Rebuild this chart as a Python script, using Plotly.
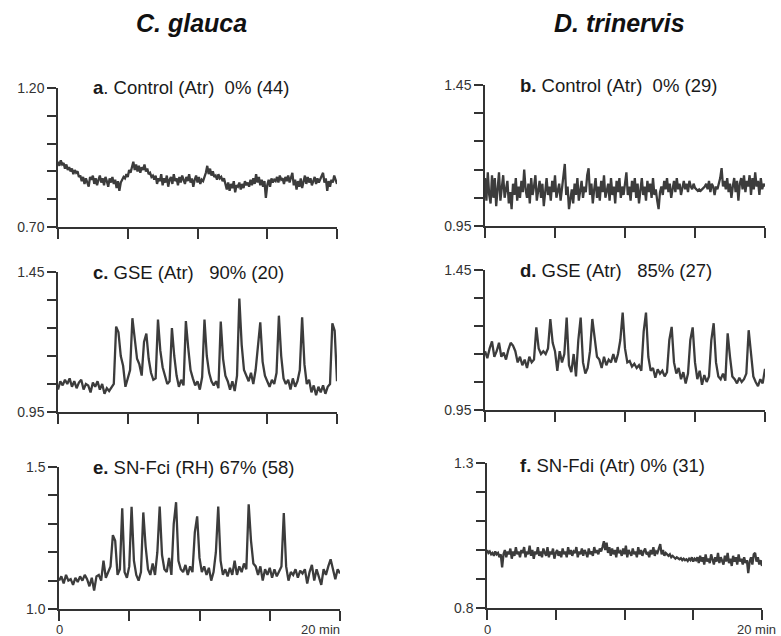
import plotly.graph_objects as go

# ---------------- data ----------------
species = ["C. glauca", "D. trinervis"]
panel_labels = [
    ("a", ". Control (Atr)\u00a0\u00a00% (44)"),
    ("b.", " Control (Atr)\u00a0\u00a00% (29)"),
    ("c.", " GSE (Atr)\u00a0\u00a0\u00a090% (20)"),
    ("d.", " GSE (Atr)\u00a0\u00a0\u00a085% (27)"),
    ("e.", " SN-Fci (RH) 67% (58)"),
    ("f.", " SN-Fdi (Atr) 0% (31)"),
]
y_ranges = [(0.70, 1.20), (0.95, 1.45), (0.95, 1.45), (0.95, 1.45), (1.0, 1.5), (0.8, 1.3)]
y_tick_labels = [("0.70", "1.20"), ("0.95", "1.45"), ("0.95", "1.45"),
                 ("0.95", "1.45"), ("1.0", "1.5"), ("0.8", "1.3")]
x_tick_minutes = [0, 5, 10, 15, 20]
duration_min = 20

ratio_a = [
    0.935, 0.920, 0.940, 0.925, 0.930, 0.910, 0.925, 0.905, 0.915, 0.900, 0.910, 0.890, 0.905, 0.895, 0.900, 0.880,
    0.885, 0.865, 0.880, 0.855, 0.875, 0.860, 0.845, 0.880, 0.870, 0.885, 0.855, 0.875, 0.850, 0.870, 0.885,
    0.860, 0.875, 0.850, 0.880, 0.865, 0.845, 0.875, 0.860, 0.880, 0.855, 0.870, 0.840, 0.865, 0.830, 0.860,
    0.870, 0.880, 0.875, 0.890, 0.880, 0.905, 0.895, 0.915, 0.935, 0.905,
    0.925, 0.900, 0.920, 0.895, 0.915, 0.905, 0.925, 0.900, 0.910, 0.890, 0.895, 0.880, 0.885,
    0.870, 0.885, 0.855, 0.875, 0.865, 0.890, 0.850, 0.875, 0.860, 0.885, 0.845, 0.870, 0.880, 0.855, 0.890,
    0.865, 0.875, 0.850, 0.880, 0.860, 0.885, 0.870, 0.855, 0.880, 0.865, 0.890, 0.860, 0.875, 0.845, 0.870,
    0.885, 0.860, 0.880, 0.855, 0.870, 0.865, 0.880,
    0.895, 0.920, 0.890, 0.910, 0.885, 0.900, 0.880,
    0.885, 0.870, 0.890, 0.875, 0.880, 0.865, 0.875, 0.850,
    0.835, 0.860, 0.830, 0.855, 0.840, 0.865, 0.825, 0.850, 0.845, 0.860, 0.835, 0.855, 0.840, 0.865, 0.850,
    0.860, 0.845, 0.870, 0.850, 0.875, 0.855, 0.890, 0.860, 0.880, 0.850, 0.870, 0.845, 0.865, 0.805, 0.850,
    0.870, 0.845, 0.875, 0.860, 0.870,
    0.865, 0.880, 0.860, 0.885, 0.870, 0.875, 0.855, 0.880, 0.865, 0.885, 0.860, 0.875, 0.895, 0.850, 0.870,
    0.835, 0.865, 0.845, 0.875, 0.840, 0.870, 0.885, 0.855, 0.880, 0.860, 0.875, 0.850, 0.870, 0.880, 0.855,
    0.875, 0.860, 0.870,
    0.880, 0.895, 0.860, 0.875, 0.830, 0.865, 0.845, 0.870, 0.860, 0.885, 0.870, 0.855,
]

ratio_b = [
    1.12, 1.04, 1.14, 1.06, 1.03, 1.13, 1.05, 1.12, 1.02, 1.10, 1.14, 1.04, 1.09,
    1.13, 1.05, 1.08, 1.11, 1.03, 1.07, 1.01, 1.10, 1.06, 1.12, 1.04, 1.09, 1.05, 1.11, 1.07, 1.15,
    1.08, 1.05, 1.10, 1.03, 1.12, 1.06, 1.09, 1.13, 1.04, 1.08, 1.11, 1.05, 1.10, 1.02, 1.07, 1.12,
    1.06, 1.09, 1.04, 1.11, 1.07, 1.13, 1.05, 1.08, 1.10, 1.04, 1.09, 1.12,
    1.17, 1.06, 1.09, 1.01, 1.05, 1.08, 1.03,
    1.10, 1.06, 1.12, 1.04, 1.08, 1.11, 1.05, 1.09, 1.07, 1.13, 1.155, 1.06, 1.10, 1.03, 1.08, 1.12,
    1.05, 1.09, 1.04, 1.11, 1.07, 1.13, 1.05, 1.08, 1.10, 1.04, 1.12, 1.06, 1.09, 1.03, 1.11, 1.07,
    1.12, 1.05, 1.09, 1.06, 1.10,
    1.14, 1.06, 1.09, 1.04, 1.11, 1.07, 1.12, 1.05, 1.10, 1.03, 1.08, 1.12, 1.06, 1.09, 1.04, 1.11,
    1.07, 1.10, 1.05, 1.12, 1.06, 1.08, 1.04, 1.01, 1.07,
    1.09, 1.06, 1.11, 1.08, 1.12, 1.07, 1.10, 1.05, 1.09, 1.11, 1.07, 1.12, 1.08, 1.10, 1.06, 1.09,
    1.11, 1.08, 1.10, 1.07, 1.11, 1.09, 1.08, 1.10, 1.085, 1.08, 1.075, 1.08, 1.075, 1.08, 1.085, 1.09,
    1.10, 1.08, 1.11, 1.07, 1.10, 1.09, 1.06,
    1.09, 1.08, 1.10, 1.12, 1.155, 1.09, 1.11, 1.08, 1.12, 1.07, 1.10,
    1.05, 1.09, 1.12, 1.07, 1.11, 1.04, 1.10, 1.12, 1.08, 1.13, 1.07, 1.11, 1.09, 1.13, 1.06, 1.12,
    1.08, 1.14, 1.09, 1.11, 1.06, 1.12, 1.08, 1.10, 1.09,
]

ratio_c = [
    1.030, 1.060, 1.045, 1.065, 1.050, 1.070, 1.040, 1.060, 1.035, 1.055, 1.065, 1.030, 1.050,
    1.045, 1.020, 1.055, 1.040, 1.060, 1.030, 1.050, 1.015, 1.035, 1.025, 1.040, 1.050,
    1.255, 1.235, 1.150, 1.115, 1.040, 1.075, 1.100,
    1.285, 1.200, 1.140, 1.120, 1.080, 1.200, 1.230, 1.140, 1.090, 1.065, 1.070,
    1.280, 1.170, 1.110, 1.080, 1.050, 1.060,
    1.250, 1.150, 1.080, 1.040, 1.065, 1.045,
    1.275, 1.180, 1.100, 1.070, 1.045, 1.060, 1.030, 1.075,
    1.280, 1.150, 1.090, 1.060, 1.045, 1.060, 1.035,
    1.273, 1.140, 1.080, 1.060, 1.030, 1.060, 1.025, 1.080,
    1.355, 1.190, 1.100, 1.080, 1.060, 1.090, 1.050, 1.100,
    1.200, 1.270, 1.130, 1.080, 1.060, 1.040, 1.065, 1.050, 1.090,
    1.294, 1.150, 1.070, 1.050, 1.065, 1.030, 1.070, 1.040, 1.060, 1.100,
    1.288, 1.120, 1.050, 1.065, 1.020, 1.045, 1.010, 1.040, 1.020, 1.045, 1.015, 1.040, 1.050,
    1.267, 1.240, 1.060,
]

ratio_d = [
    1.160, 1.135, 1.170, 1.195, 1.140, 1.160, 1.190, 1.140, 1.155, 1.130, 1.165, 1.190, 1.180, 1.160,
    1.12, 1.14, 1.11, 1.13, 1.10, 1.14, 1.12, 1.13,
    1.245, 1.17, 1.15, 1.16, 1.15, 1.17,
    1.275, 1.19, 1.16, 1.09, 1.16, 1.12, 1.15,
    1.28, 1.11, 1.085, 1.15, 1.07, 1.20, 1.28, 1.12, 1.08, 1.10, 1.16, 1.275, 1.20, 1.14,
    1.13, 1.10, 1.14, 1.11, 1.13, 1.12, 1.15, 1.12, 1.15,
    1.20, 1.298, 1.17, 1.12, 1.125, 1.105, 1.115, 1.10, 1.11, 1.09,
    1.23, 1.298, 1.14, 1.09, 1.10, 1.065, 1.095, 1.08, 1.09, 1.07, 1.085,
    1.20, 1.247, 1.12, 1.08, 1.10, 1.06, 1.085, 1.045, 1.08,
    1.20, 1.245, 1.12, 1.06, 1.09, 1.04, 1.075, 1.05, 1.07,
    1.20, 1.26, 1.12, 1.07, 1.06, 1.08, 1.055,
    1.224, 1.14, 1.07, 1.06, 1.045, 1.065, 1.05, 1.06, 1.08,
    1.235, 1.15, 1.07, 1.05, 1.035, 1.06, 1.045, 1.097,
]

ratio_e = [
    1.100, 1.115, 1.090, 1.120, 1.100, 1.105, 1.085, 1.110, 1.095, 1.115,
    1.100, 1.120, 1.105, 1.080, 1.110, 1.065, 1.115, 1.120, 1.100,
    1.17, 1.11, 1.13, 1.15, 1.26, 1.24, 1.12, 1.14,
    1.355, 1.13, 1.11, 1.15, 1.36, 1.17, 1.12, 1.10, 1.13, 1.34, 1.22,
    1.14, 1.12, 1.16, 1.12, 1.20, 1.361, 1.19, 1.14, 1.13, 1.18,
    1.12, 1.30, 1.376, 1.17, 1.14, 1.13, 1.155, 1.12, 1.15, 1.13,
    1.27, 1.326, 1.18, 1.13, 1.15, 1.12, 1.145, 1.10, 1.13, 1.20,
    1.361, 1.17, 1.12, 1.14, 1.115, 1.145, 1.12, 1.17, 1.12, 1.15, 1.13, 1.16, 1.14,
    1.369, 1.24, 1.16, 1.15, 1.12, 1.15, 1.10, 1.14, 1.12, 1.145, 1.11, 1.14, 1.115, 1.13, 1.15,
    1.338, 1.15, 1.10, 1.13, 1.12, 1.14, 1.11, 1.135, 1.125, 1.14, 1.09, 1.13, 1.155,
    1.10, 1.14, 1.115, 1.085, 1.14, 1.12, 1.15, 1.175, 1.14, 1.105, 1.14, 1.125,
]

ratio_f = [
    1.000, 0.990, 0.995, 0.985, 0.990, 0.980, 0.995, 0.985, 0.990, 0.975, 0.985, 0.940,
    0.985, 1.000, 0.975, 0.995, 0.985, 1.005, 0.970, 0.995, 0.980, 1.010,
    0.985, 0.995, 0.975, 1.000, 0.990, 1.010, 0.975, 0.995, 0.985, 1.015,
    0.980, 1.000, 0.970, 0.995, 0.985, 1.010, 0.980, 0.995, 0.975, 1.005,
    0.990, 0.980, 1.010, 0.975, 0.995, 0.985, 1.005, 0.970, 0.990, 1.000,
    0.980, 0.995, 0.975, 1.005, 0.985, 0.995, 0.975, 1.010, 0.985, 1.000,
    0.980, 0.995, 0.990, 1.010, 0.975, 0.995, 0.985, 1.005, 0.980, 1.000,
    0.990, 0.975, 1.005, 0.985, 0.995, 0.980, 1.010, 0.990, 1.000, 0.985, 1.005, 0.995, 1.010,
    1.030, 1.000, 1.025,
    0.990, 1.010, 0.980, 1.005, 0.985, 1.000, 0.975, 1.010, 0.990, 0.995,
    0.980, 1.005, 0.985, 1.015, 0.975, 1.000, 0.990, 0.980, 1.005, 0.985,
    0.995, 0.975, 1.010, 0.985, 1.000, 0.980, 0.995, 1.005, 0.985, 0.990,
    0.975, 1.000, 0.985, 1.010, 0.980, 0.995, 0.990, 1.010, 1.020, 0.985,
    1.000, 0.980, 0.990, 0.985, 0.980, 0.985, 0.975, 0.980,
    0.975, 0.970, 0.975, 0.970, 0.968, 0.972, 0.965, 0.970, 0.965, 0.968,
    0.962, 0.970, 0.965, 0.975, 0.960, 0.970, 0.965, 0.975,
    0.955, 0.980, 0.960, 0.975, 0.950, 0.985, 0.960, 0.970, 0.955, 0.985,
    0.965, 0.950, 0.975, 0.960, 0.990, 0.955, 0.975, 0.965, 0.950, 0.980,
    0.960, 0.990, 0.955, 0.970, 0.945, 0.980, 0.960, 0.975, 0.950, 0.985,
    0.960, 0.970, 0.950, 0.975, 0.955, 0.965, 0.920, 0.960, 0.975, 0.950,
    0.985, 0.990, 0.960, 0.975, 0.950, 0.965, 0.945,
]

series = [ratio_a, ratio_b, ratio_c, ratio_d, ratio_e, ratio_f]

# ---------------- layout geometry (pixels) ----------------
W, H = 781, 636
# (left, right, top, bottom) of each plot area in pixels
boxes = [
    (58, 337, 88, 227),
    (485, 765, 85, 226),
    (58, 337, 272, 412),
    (485, 765, 270, 410),
    (59, 340, 467, 609),
    (487, 762, 463, 608),
]
label_pos = [(91, 88), (518, 85), (91, 272), (518, 270), (91, 467), (518, 466)]

LINE = "#3c3c3c"
AX = "#333333"
FONT = "Liberation Sans, Arial, sans-serif"

fig = go.Figure()
layout = dict(
    width=W, height=H, autosize=False,
    margin=dict(l=0, r=0, t=0, b=0, pad=0, autoexpand=False),
    paper_bgcolor="white", plot_bgcolor="white", showlegend=False,
    font=dict(family=FONT, color=AX, size=14),
    annotations=[],
)

for k, (vals, box, yr, ytl) in enumerate(zip(series, boxes, y_ranges, y_tick_labels)):
    n = k + 1
    xa = "xaxis" if n == 1 else f"xaxis{n}"
    ya = "yaxis" if n == 1 else f"yaxis{n}"
    times = [i * duration_min / (len(vals) - 1) for i in range(len(vals))]
    fig.add_trace(go.Scatter(
        x=times, y=vals, mode="lines",
        line=dict(color=LINE, width=2.3),
        xaxis=f"x{n}" if n > 1 else "x", yaxis=f"y{n}" if n > 1 else "y",
        hoverinfo="skip",
    ))
    l, r, t, b = box
    y_step = (yr[1] - yr[0]) / 5
    layout[xa] = dict(
        domain=[l / W, r / W], range=[0, 20], anchor=f"y{n}" if n > 1 else "y",
        showgrid=False, zeroline=False, showline=True, linecolor=AX, linewidth=1.5,
        ticks="outside", ticklen=10, tickwidth=1.5, tickcolor=AX,
        tickvals=x_tick_minutes, showticklabels=False, automargin=False,
    )
    layout[ya] = dict(
        domain=[1 - b / H, 1 - t / H], range=[yr[0], yr[1]],
        anchor=f"x{n}" if n > 1 else "x",
        showgrid=False, zeroline=False, showline=True, linecolor=AX, linewidth=1.5,
        ticks="outside", ticklen=9, tickwidth=1.5, tickcolor=AX,
        tickvals=[yr[0] + j * y_step for j in range(6)],
        ticktext=[ytl[0], "", "", "", "", ytl[1]],
        tickfont=dict(size=14, color=AX, family=FONT), automargin=False,
    )
    letter, rest = panel_labels[k]
    lx, ly = label_pos[k]
    layout["annotations"].append(dict(
        x=lx / W, y=1 - ly / H, xref="paper", yref="paper",
        xanchor="left", yanchor="middle", showarrow=False,
        text=f"<b>{letter}</b>{rest}", font=dict(size=18.5, color="#1a1a1a", family=FONT),
    ))

# species titles
for name, cx in zip(species, [191, 619]):
    layout["annotations"].append(dict(
        x=cx / W, y=1 - 23 / H, xref="paper", yref="paper",
        xanchor="center", yanchor="middle", showarrow=False,
        text=f"<b><i>{name}</i></b>", font=dict(size=25, color="#111111", family=FONT),
    ))

# time labels under the bottom panels
for (l, r, t, b), right_edge in zip([boxes[4], boxes[5]], [342, 778]):
    layout["annotations"].append(dict(
        x=l / W, y=1 - 629 / H, xref="paper", yref="paper",
        xanchor="center", yanchor="middle", showarrow=False,
        text="0", font=dict(size=13, color=AX, family=FONT),
    ))
    layout["annotations"].append(dict(
        x=right_edge / W, y=1 - 629 / H, xref="paper", yref="paper",
        xanchor="right", yanchor="middle", showarrow=False,
        text="20 min", font=dict(size=13, color=AX, family=FONT),
    ))

fig.update_layout(**layout)
fig.write_html(
    "out.html",
    config={"displayModeBar": False, "responsive": False},
    post_script="document.body.style.margin='0';document.body.style.padding='0';"
                "document.body.style.overflow='hidden';",
)
